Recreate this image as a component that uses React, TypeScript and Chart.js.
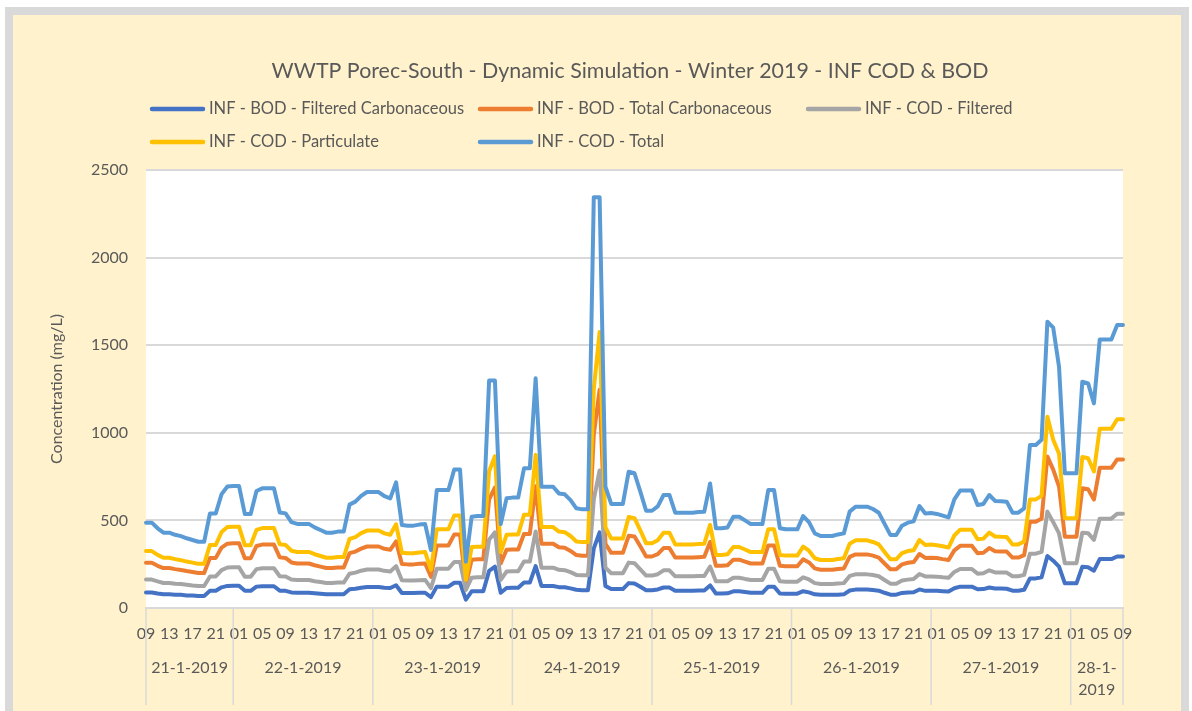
import { useEffect, useRef } from 'react';
import { Chart, registerables } from 'chart.js';

Chart.register(...registerables);

// ---- categories ----
const dayLabels = ['21-1-2019', '22-1-2019', '23-1-2019', '24-1-2019', '25-1-2019', '26-1-2019', '27-1-2019', '28-1-2019'];
const startHour = 9;
const pointCount = 169;
const hourLabelEvery = 4;

// ---- series (mg/L), hourly from 21-1-2019 09:00 to 28-1-2019 09:00 ----
const bodFiltered = [
  89, 89, 83, 78, 78, 76, 75, 72, 71, 69, 69, 98, 98, 118, 126,
  127, 127, 98, 98, 122, 124, 124, 124, 99, 98, 89, 87, 87, 87, 84, 81, 78, 78, 79, 79, 107, 110, 116, 120,
  120, 120, 116, 114, 130, 86, 86, 86, 87, 87, 62, 122, 122, 122, 144, 144, 48, 95, 96, 96, 212, 236, 87, 114,
  115, 115, 145, 145, 239, 126, 126, 126, 119, 118, 112, 104, 102, 102, 340, 432, 126, 108, 108, 108, 142, 140, 121, 101,
  101, 106, 117, 117, 99, 99, 99, 99, 100, 100, 129, 83, 83, 84, 95, 95, 91, 87, 87, 87, 122, 122, 83, 82,
  82, 82, 96, 89, 78, 75, 75, 75, 76, 78, 100, 105, 105, 105, 103, 99, 87, 76, 76, 86, 89, 90, 106, 98,
  99, 98, 96, 94, 113, 122, 122, 122, 107, 108, 117, 111, 111, 110, 99, 99, 104, 169, 169, 175, 297, 270, 236, 141,
  141, 141, 235, 233, 213, 279, 279, 279, 294, 294,
];
const bodTotal = [
  258, 258, 241, 228, 228, 222, 217, 211, 206, 200, 200, 286, 286, 345, 367,
  369, 369, 284, 284, 354, 362, 362, 362, 289, 286, 260, 254, 254, 254, 244, 236, 228, 228, 231, 231, 313, 322, 339, 351,
  351, 351, 338, 332, 380, 251, 249, 249, 252, 254, 178, 357, 357, 357, 419, 419, 131, 276, 278, 278, 620, 688, 254, 332,
  334, 334, 422, 422, 695, 367, 367, 367, 347, 344, 326, 302, 298, 298, 990, 1245, 367, 315, 315, 315, 412, 408, 352, 294,
  294, 307, 342, 342, 288, 288, 288, 288, 290, 292, 377, 241, 241, 244, 276, 276, 265, 254, 254, 254, 357, 357, 241, 238,
  238, 238, 278, 260, 226, 218, 218, 218, 223, 226, 292, 306, 306, 306, 299, 288, 254, 221, 221, 249, 258, 262, 308, 286,
  287, 285, 279, 274, 329, 355, 355, 355, 312, 315, 342, 324, 323, 322, 288, 288, 302, 493, 493, 509, 864, 790, 693, 407,
  407, 407, 683, 678, 619, 800, 800, 800, 848, 848,
];
const codFiltered = [
  162, 162, 152, 143, 143, 139, 137, 133, 129, 126, 126, 180, 180, 216, 231,
  232, 232, 178, 178, 222, 227, 227, 227, 181, 180, 163, 160, 160, 160, 153, 148, 143, 143, 145, 145, 196, 202, 213, 220,
  220, 220, 212, 208, 239, 158, 157, 157, 159, 160, 113, 224, 224, 224, 263, 263, 103, 173, 175, 175, 390, 432, 160, 208,
  210, 210, 265, 265, 437, 230, 230, 230, 218, 216, 205, 189, 187, 187, 620, 785, 230, 198, 198, 198, 259, 256, 221, 185,
  185, 193, 215, 215, 181, 181, 181, 181, 182, 183, 237, 152, 152, 153, 173, 173, 166, 160, 160, 160, 224, 224, 152, 150,
  150, 150, 175, 163, 142, 137, 137, 137, 140, 142, 183, 192, 192, 192, 188, 181, 160, 139, 139, 157, 162, 165, 194, 180,
  180, 179, 175, 172, 206, 223, 223, 223, 196, 198, 215, 203, 203, 202, 181, 181, 189, 310, 310, 320, 550, 490, 426, 256,
  256, 256, 430, 427, 389, 510, 510, 510, 538, 538,
];
const codParticulate = [
  325, 325, 303, 287, 287, 279, 273, 265, 259, 252, 252, 360, 360, 434, 462,
  464, 464, 358, 358, 446, 456, 456, 456, 364, 360, 327, 320, 320, 320, 307, 297, 287, 287, 291, 291, 394, 405, 427, 442,
  442, 442, 426, 418, 478, 316, 313, 313, 317, 319, 218, 449, 449, 449, 528, 528, 161, 348, 350, 350, 780, 866, 319, 418,
  420, 420, 532, 532, 874, 462, 462, 462, 436, 433, 411, 380, 376, 376, 1250, 1575, 462, 396, 396, 396, 519, 513, 443, 370,
  370, 387, 430, 430, 363, 363, 363, 363, 366, 367, 474, 303, 303, 307, 348, 348, 334, 319, 319, 319, 449, 449, 303, 299,
  299, 299, 350, 327, 284, 274, 274, 274, 280, 284, 367, 386, 386, 386, 377, 363, 320, 278, 278, 313, 325, 330, 388, 360,
  362, 358, 352, 345, 414, 447, 447, 447, 392, 396, 430, 408, 406, 405, 363, 363, 380, 620, 620, 640, 1092, 960, 880, 512,
  512, 512, 862, 855, 779, 1023, 1023, 1023, 1077, 1077,
];
const codTotal = [
  487, 487, 455, 430, 430, 418, 410, 398, 388, 378, 378, 540, 540, 650, 693,
  696, 696, 536, 536, 668, 683, 683, 683, 545, 540, 490, 480, 480, 480, 460, 445, 430, 430, 436, 436, 590, 607, 640, 662,
  662, 662, 638, 626, 717, 474, 470, 470, 476, 479, 331, 673, 673, 673, 791, 791, 264, 521, 525, 525, 1298, 1298, 479, 626,
  630, 630, 797, 797, 1311, 692, 692, 692, 654, 649, 616, 569, 563, 563, 2345, 2345, 692, 594, 594, 594, 778, 769, 664, 555,
  555, 580, 645, 645, 544, 544, 544, 544, 548, 550, 711, 455, 455, 460, 521, 521, 500, 479, 479, 479, 673, 673, 455, 449,
  449, 449, 525, 490, 426, 411, 411, 411, 420, 426, 550, 578, 578, 578, 565, 544, 480, 417, 417, 470, 487, 495, 582, 540,
  542, 537, 527, 517, 620, 670, 670, 670, 588, 594, 645, 611, 609, 607, 544, 544, 569, 930, 930, 960, 1634, 1600, 1377, 769,
  769, 769, 1292, 1282, 1168, 1533, 1533, 1533, 1615, 1615,
];

const seriesNames = [
  'INF - BOD - Filtered Carbonaceous',
  'INF - BOD - Total Carbonaceous',
  'INF - COD - Filtered',
  'INF - COD - Particulate',
  'INF - COD - Total',
];
const seriesData = [bodFiltered, bodTotal, codFiltered, codParticulate, codTotal];
const seriesColors = ['#4472C4', '#ED7D31', '#A5A5A5', '#FFC000', '#5B9BD5'];

const chartTitle = 'WWTP Porec-South - Dynamic Simulation - Winter 2019 - INF COD & BOD';
const yAxisTitle = 'Concentration (mg/L)';
const yMin = 0;
const yMax = 2500;
const yStep = 500;

// ---- derived categories ----
const hourLabels = Array.from({ length: pointCount }, (_, i) => String((startHour + i) % 24).padStart(2, '0'));
const dayIndexOfPoint = Array.from({ length: pointCount }, (_, i) => Math.floor((startHour + i) / 24));

const FONT = 'Lato, Carlito, "Open Sans", sans-serif';
const TEXT = '#595959';
const GRID = '#D9D9D9';
const W = 1192;
const H = 711;

const decorPlugin = {
  id: 'excelDecor',
  beforeDraw(chart: any) {
    const { ctx, chartArea } = chart;
    ctx.save();
    ctx.fillStyle = '#FFFFFF';
    ctx.fillRect(chartArea.left, chartArea.top, chartArea.right - chartArea.left, chartArea.bottom - chartArea.top);
    ctx.restore();
  },
  afterDraw(chart: any) {
    const { ctx, chartArea } = chart;
    const xs = chart.scales.x;
    ctx.save();

    // Title
    ctx.fillStyle = TEXT;
    ctx.font = `21.4px ${FONT}`;
    ctx.textAlign = 'center';
    ctx.textBaseline = 'middle';
    ctx.fillText(chartTitle, 630, 71);

    // Legend (Excel-like grid of 3 columns)
    ctx.font = `16.5px ${FONT}`;
    ctx.textAlign = 'left';
    seriesNames.forEach((name, k) => {
      const col = k % 3;
      const row = Math.floor(k / 3);
      const lx = 150 + col * 328;
      const ly = 109 + row * 33;
      ctx.strokeStyle = seriesColors[k];
      ctx.lineWidth = 4.5;
      ctx.lineCap = 'round';
      ctx.beginPath();
      ctx.moveTo(lx + 2, ly);
      ctx.lineTo(lx + 53, ly);
      ctx.stroke();
      ctx.fillStyle = TEXT;
      ctx.fillText(name, lx + 59, ly);
    });

    // Y axis title
    ctx.save();
    ctx.translate(57, (chartArea.top + chartArea.bottom) / 2);
    ctx.rotate(-Math.PI / 2);
    ctx.textAlign = 'center';
    ctx.textBaseline = 'middle';
    ctx.font = `16px ${FONT}`;
    ctx.fillStyle = TEXT;
    ctx.fillText(yAxisTitle, 0, 0);
    ctx.restore();

    // Day separators and day labels (second category level)
    const bounds: number[] = [0];
    for (let i = 1; i < pointCount; i++) {
      if (dayIndexOfPoint[i] !== dayIndexOfPoint[i - 1]) bounds.push(i);
    }
    bounds.push(pointCount - 1);
    const sepBottom = 705;
    ctx.strokeStyle = GRID;
    ctx.lineWidth = 1.5;
    ctx.lineCap = 'butt';
    bounds.forEach((b) => {
      const x = xs.getPixelForValue(b);
      ctx.beginPath();
      ctx.moveTo(x, chartArea.bottom);
      ctx.lineTo(x, sepBottom);
      ctx.stroke();
    });
    ctx.font = `16px ${FONT}`;
    ctx.fillStyle = TEXT;
    ctx.textAlign = 'center';
    ctx.textBaseline = 'middle';
    for (let d = 0; d < bounds.length - 1; d++) {
      const x0 = xs.getPixelForValue(bounds[d]);
      const x1 = xs.getPixelForValue(bounds[d + 1]);
      const cx = (x0 + x1) / 2;
      const label = dayLabels[dayIndexOfPoint[bounds[d]]];
      if (ctx.measureText(label).width > x1 - x0 - 6) {
        const parts = label.split('-');
        ctx.fillText(parts[0] + '-' + parts[1] + '-', cx, 668);
        ctx.fillText(parts[2], cx, 690);
      } else {
        ctx.fillText(label, cx, 668);
      }
    }
    ctx.restore();
  },
};

export default function App() {
  const canvasRef = useRef<HTMLCanvasElement | null>(null);

  useEffect(() => {
    const canvas = canvasRef.current;
    if (!canvas) return;
    const chart = new Chart(canvas, {
      type: 'line',
      data: {
        labels: hourLabels,
        datasets: seriesData.map((data, k) => ({
          label: seriesNames[k],
          data,
          borderColor: seriesColors[k],
          backgroundColor: seriesColors[k],
          borderWidth: 4,
          pointRadius: 0,
          pointHoverRadius: 0,
          tension: 0,
          fill: false,
          borderJoinStyle: 'round',
          borderCapStyle: 'round',
          order: seriesData.length - k,
        })),
      },
      options: {
        responsive: false,
        animation: false,
        events: [],
        layout: { padding: { top: 170, right: W - 1123, bottom: 0, left: 0 } },
        plugins: {
          legend: { display: false },
          title: { display: false },
          tooltip: { enabled: false },
        },
        scales: {
          x: {
            type: 'category',
            offset: false,
            grid: { display: false, drawTicks: false },
            border: { display: true, color: GRID, width: 2 },
            ticks: {
              autoSkip: false,
              maxRotation: 0,
              minRotation: 0,
              padding: 16,
              color: TEXT,
              font: { family: FONT, size: 16 },
              callback: (_v: any, i: number) => (i % hourLabelEvery === 0 ? hourLabels[i] : ''),
            },
            afterFit: (s: any) => {
              s.height = H - 608;
            },
          },
          y: {
            min: yMin,
            max: yMax,
            ticks: {
              stepSize: yStep,
              padding: 18,
              color: TEXT,
              font: { family: FONT, size: 16 },
              callback: (v: any) => String(v),
            },
            grid: { color: GRID, lineWidth: 2, drawTicks: false },
            border: { display: false },
            afterFit: (s: any) => {
              s.width = 146;
            },
          },
        },
      },
      plugins: [decorPlugin],
    } as any);
    return () => chart.destroy();
  }, []);

  return (
    <div style={{ position: 'absolute', left: 0, top: 0, width: W, height: H, background: '#FFFFFF', overflow: 'hidden' }}>
      <div
        style={{
          position: 'absolute',
          left: 5,
          top: 7,
          width: 1184,
          height: 730,
          boxSizing: 'border-box',
          background: '#FFF2CC',
          border: '8px solid #D9D9D9',
        }}
      />
      <canvas ref={canvasRef} width={W} height={H} style={{ position: 'absolute', left: 0, top: 0, width: W, height: H }} />
    </div>
  );
}
